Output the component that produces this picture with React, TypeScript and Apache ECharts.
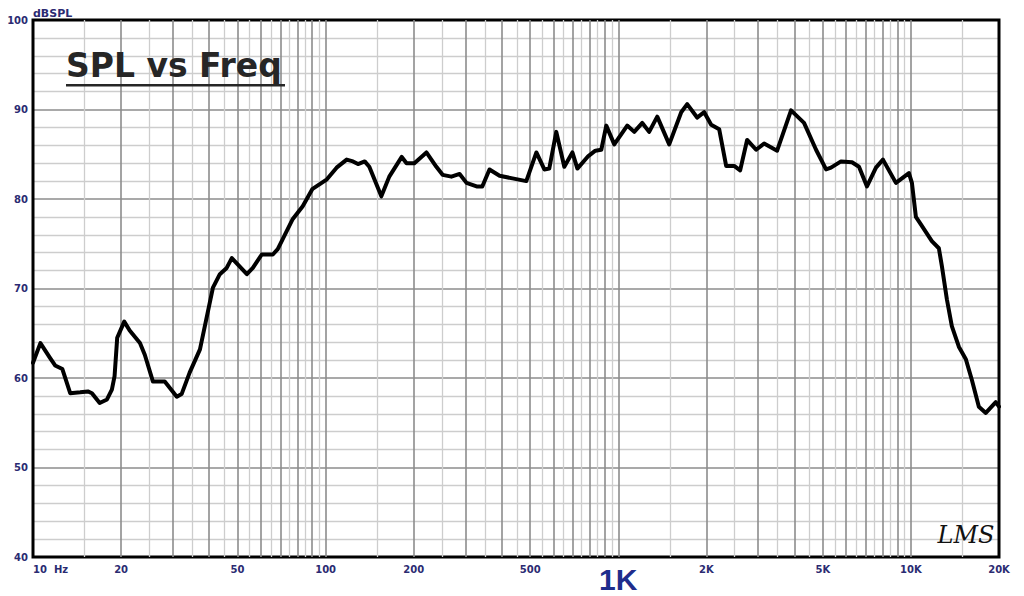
import React, { useEffect, useRef } from "react";
import * as echarts from "echarts";

// Frequency response (Hz) and sound pressure level (dB SPL)
const freqHz = [
  10, 10.6, 11.4, 11.9, 12.6, 13.4, 14.5, 15.4, 15.9, 16.9, 17.9, 18.6, 19.0, 19.4,
  20.5, 21.4, 23.2, 24.1, 25.7, 28.2, 31.0, 32.2, 34.3, 37.2, 41.2, 43.5, 45.9, 47.8,
  53.8, 56.4, 60.5, 66, 68.6, 77, 83.5, 90, 101, 109, 118, 124, 129, 136, 141, 155,
  165, 182, 189, 201, 221, 239, 251, 269, 287, 303, 328, 343, 363, 393, 435, 485,
  525, 559, 581, 614, 654, 697, 725, 790, 835, 875, 910, 969, 1073, 1134, 1208, 1275,
  1359, 1493, 1641, 1720, 1860, 1966, 2077, 2212, 2337, 2489, 2609, 2756, 2958, 3150,
  3490, 3894, 4313, 4741, 5129, 5333, 5769, 6290, 6646, 7077, 7596, 8025, 8888, 9844,
  10080, 10400, 10900, 11790, 12460, 12760, 13270, 13800, 14580, 15410, 16150, 17070,
  18030, 19500, 20000,
];
const splDb = [
  61.7, 63.9, 62.3, 61.4, 61.0, 58.3, 58.4, 58.5, 58.3, 57.2, 57.6, 58.7, 60.2, 64.5,
  66.3, 65.3, 63.9, 62.6, 59.6, 59.6, 57.9, 58.2, 60.6, 63.2, 70.1, 71.6, 72.3, 73.4,
  71.6, 72.3, 73.8, 73.8, 74.4, 77.7, 79.2, 81.1, 82.2, 83.5, 84.4, 84.2, 83.9, 84.2,
  83.6, 80.3, 82.5, 84.7, 84.0, 84.0, 85.2, 83.6, 82.7, 82.5, 82.8, 81.8, 81.4, 81.4,
  83.3, 82.6, 82.3, 82.0, 85.2, 83.3, 83.4, 87.5, 83.6, 85.2, 83.4, 84.8, 85.4, 85.5,
  88.2, 86.1, 88.2, 87.5, 88.5, 87.5, 89.2, 86.1, 89.7, 90.6, 89.1, 89.7, 88.3, 87.8,
  83.7, 83.7, 83.2, 86.6, 85.5, 86.2, 85.4, 89.9, 88.5, 85.5, 83.3, 83.5, 84.2, 84.1,
  83.6, 81.4, 83.5, 84.4, 81.8, 82.9, 81.8, 78.0, 77.0, 75.3, 74.5, 72.5, 68.8, 65.8,
  63.5, 62.1, 59.8, 56.8, 56.1, 57.3, 56.8,
];

// Axis tick labels
const xTickValues = [10, 20, 50, 100, 200, 500, 1000, 2000, 5000, 10000, 20000];
const xTickLabels = ["10  Hz", "20", "50", "100", "200", "500", "1K", "2K", "5K", "10K", "20K"];
const yMin = 40;
const yMax = 100;
const yInterval = 10;

// Grid line multipliers within each decade
const decades = [10, 100, 1000, 10000];
const majorMultipliers = [1, 2, 3, 4, 5, 6, 7, 8, 9];
const minorMultipliers = [1.5, 2.5, 3.5, 4.5, 5.5, 6.5, 7.5, 8.5, 9.5];

const NAVY = "#2b2b72";

export default function App() {
  const ref = useRef<HTMLDivElement>(null);

  useEffect(() => {
    if (!ref.current) return;
    const chart = echarts.init(ref.current, undefined, { renderer: "svg" });

    const xMax = xTickValues[xTickValues.length - 1];
    const majorLines: any[] = [];
    const minorLines: any[] = [];
    decades.forEach((d) => {
      majorMultipliers.forEach((m) => {
        const v = d * m;
        if (v > 10 && v < xMax) majorLines.push({ xAxis: v });
      });
      minorMultipliers.forEach((m) => {
        const v = d * m;
        if (v < xMax) minorLines.push({ xAxis: v });
      });
    });

    const labelFor = (v: number) => {
      const i = xTickValues.findIndex(
        (t) => Math.abs(Math.log10(t) - Math.log10(v)) < 1e-6
      );
      if (i < 0) return "";
      if (xTickValues[i] === 1000) return "{big|" + xTickLabels[i] + "}";
      return xTickLabels[i];
    };

    chart.setOption({
      animation: false,
      backgroundColor: "#ffffff",
      grid: {
        left: 33,
        right: 25,
        top: 20,
        bottom: 39,
        show: true,
        borderColor: "#000000",
        borderWidth: 3,
        backgroundColor: "transparent",
        z: 5,
      },
      xAxis: {
        type: "log",
        logBase: 10,
        min: 10,
        max: xMax,
        axisLine: { show: false },
        axisTick: { show: false },
        splitLine: { show: false },
        axisLabel: {
          customValues: xTickValues,
          formatter: labelFor,
          margin: 7,
          alignMinLabel: "left",
          color: NAVY,
          fontFamily: "DejaVu Sans",
          fontWeight: "bold",
          fontSize: 10,
          rich: {
            big: {
              fontFamily: "Liberation Sans",
              fontWeight: "bold",
              fontSize: 30,
              color: "#1f2d8c",
            },
          },
        },
      },
      yAxis: {
        type: "value",
        min: yMin,
        max: yMax,
        interval: yInterval,
        axisLine: { show: false },
        axisTick: { show: false },
        axisLabel: {
          margin: 5,
          color: NAVY,
          fontFamily: "DejaVu Sans",
          fontWeight: "bold",
          fontSize: 10,
        },
        splitLine: { show: true, lineStyle: { color: "#8c8c8c", width: 1.6 } },
        minorTick: { show: false, splitNumber: 5 },
        minorSplitLine: { show: true, lineStyle: { color: "#cdcdcd", width: 1.3 } },
      },
      graphic: [
        {
          type: "text",
          x: 33,
          y: 13.5,
          style: {
            text: "dBSPL",
            font: "bold 11px 'DejaVu Sans'",
            fill: NAVY,
            textVerticalAlign: "middle",
          },
        },
        {
          type: "text",
          x: 66,
          y: 65.5,
          z: 20,
          style: {
            text: "SPL vs Freq",
            font: "bold 33px 'DejaVu Sans'",
            fill: "#262626",
            textVerticalAlign: "middle",
          },
        },
        {
          type: "rect",
          z: 20,
          shape: { x: 66, y: 84, width: 219, height: 2.5 },
          style: { fill: "#262626" },
        },
        {
          type: "text",
          x: 966,
          y: 535,
          z: 20,
          style: {
            text: "LMS",
            font: "italic 24px 'DejaVu Serif'",
            fill: "#111111",
            textAlign: "center",
            textVerticalAlign: "middle",
          },
        },
      ],
      series: [
        {
          type: "line",
          name: "grid-major",
          data: [],
          silent: true,
          z: 1,
          markLine: {
            silent: true,
            symbol: ["none", "none"],
            label: { show: false },
            lineStyle: { color: "#8c8c8c", width: 1.6, type: "solid" },
            data: majorLines,
            animation: false,
          },
        },
        {
          type: "line",
          name: "grid-minor",
          data: [],
          silent: true,
          z: 0,
          markLine: {
            silent: true,
            symbol: ["none", "none"],
            label: { show: false },
            lineStyle: { color: "#cdcdcd", width: 1.3, type: "solid" },
            data: minorLines,
            animation: false,
          },
        },
        {
          type: "line",
          name: "SPL",
          z: 10,
          data: freqHz.map((f, i) => [f, splDb[i]]),
          showSymbol: false,
          symbol: "none",
          smooth: false,
          lineStyle: { color: "#000000", width: 4, join: "round", cap: "round" },
        },
      ],
    });

    return () => chart.dispose();
  }, []);

  return (
    <div
      ref={ref}
      style={{ position: "fixed", left: 0, top: 0, width: 1024, height: 596, background: "#fff" }}
    />
  );
}
